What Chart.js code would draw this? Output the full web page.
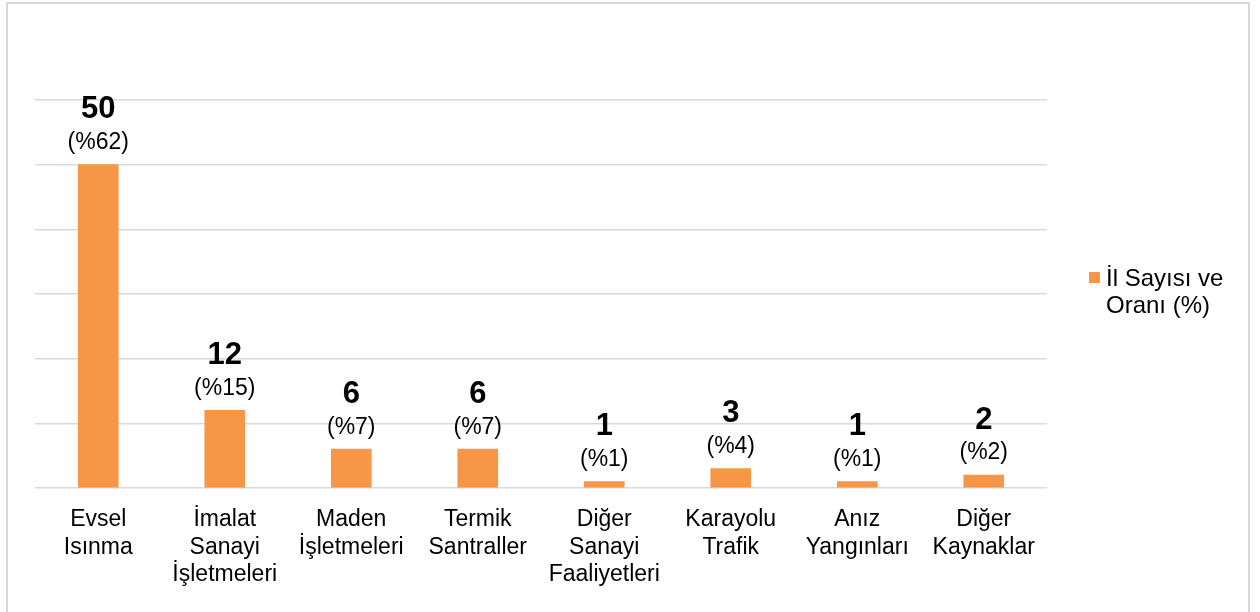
<!DOCTYPE html>
<html>
<head>
<meta charset="utf-8">
<script src="https://cdn.jsdelivr.net/npm/chart.js@4.4.0/dist/chart.umd.min.js"></script>
<style>
  body{margin:0;background:#fff;}
  #wrap{position:relative;width:1260px;height:612px;}
  #frame{position:absolute;left:6px;top:2px;width:1244px;height:620px;border:2px solid #d9d9d9;box-sizing:border-box;pointer-events:none;}
</style>
</head>
<body>
<div id="wrap">
  <canvas id="chart" width="1260" height="612"></canvas>
  <div id="frame"></div>
</div>
<script>
const categories = [
  ['Evsel','Isınma'],
  ['İmalat','Sanayi','İşletmeleri'],
  ['Maden','İşletmeleri'],
  ['Termik','Santraller'],
  ['Diğer','Sanayi','Faaliyetleri'],
  ['Karayolu','Trafik'],
  ['Anız','Yangınları'],
  ['Diğer','Kaynaklar']
];
const counts = [50, 12, 6, 6, 1, 3, 1, 2];
const percents = [62, 15, 7, 7, 1, 4, 1, 2];
const seriesName = ['İl Sayısı ve', 'Oranı (%)'];

const barColor = '#f79646';
const gridColor = '#d9d9d9';
const fontFamily = '"Liberation Sans", Arial, sans-serif';

// value + percent labels above each bar
const barLabels = {
  id:'barLabels',
  afterDatasetsDraw(chart){
    const ctx = chart.ctx;
    const meta = chart.getDatasetMeta(0);
    ctx.save();
    ctx.fillStyle = '#000';
    ctx.textAlign = 'center';
    ctx.textBaseline = 'middle';
    meta.data.forEach((bar,i)=>{
      ctx.font = 'bold 31px ' + fontFamily;
      ctx.fillText(String(counts[i]), bar.x, bar.y - 55);
      ctx.font = '23px ' + fontFamily;
      ctx.fillText('(%' + percents[i] + ')', bar.x, bar.y - 22);
    });
    ctx.restore();
  }
};

// legend on the right, two lines of text
const sideLegend = {
  id:'sideLegend',
  afterDraw(chart){
    const ctx = chart.ctx;
    ctx.save();
    ctx.fillStyle = barColor;
    ctx.fillRect(1089, 272, 11, 11);
    ctx.fillStyle = '#000';
    ctx.font = '24px ' + fontFamily;
    ctx.textAlign = 'left';
    ctx.textBaseline = 'middle';
    seriesName.forEach((t,i)=>ctx.fillText(t, 1106, 279 + i*27));
    ctx.restore();
  }
};

new Chart(document.getElementById('chart').getContext('2d'),{
  type:'bar',
  data:{
    labels:categories,
    datasets:[{
      label:seriesName.join(' '),
      data:counts,
      backgroundColor:barColor,
      barThickness:40
    }]
  },
  options:{
    responsive:false,
    animation:false,
    layout:{padding:{left:35,right:213,top:100,bottom:0}},
    plugins:{legend:{display:false},tooltip:{enabled:false}},
    scales:{
      x:{
        grid:{display:false},
        border:{display:false},
        ticks:{color:'#000',font:{family:fontFamily,size:23,lineHeight:1.2},padding:10,maxRotation:0,autoSkip:false},
        afterFit(s){s.height=124;}
      },
      y:{
        min:0,max:60,
        ticks:{display:false,stepSize:10},
        grid:{color:gridColor,lineWidth:1.5,drawTicks:false},
        border:{display:false},
        afterFit(s){s.width=0;}
      }
    }
  },
  plugins:[barLabels,sideLegend]
});
</script>
</body>
</html>
